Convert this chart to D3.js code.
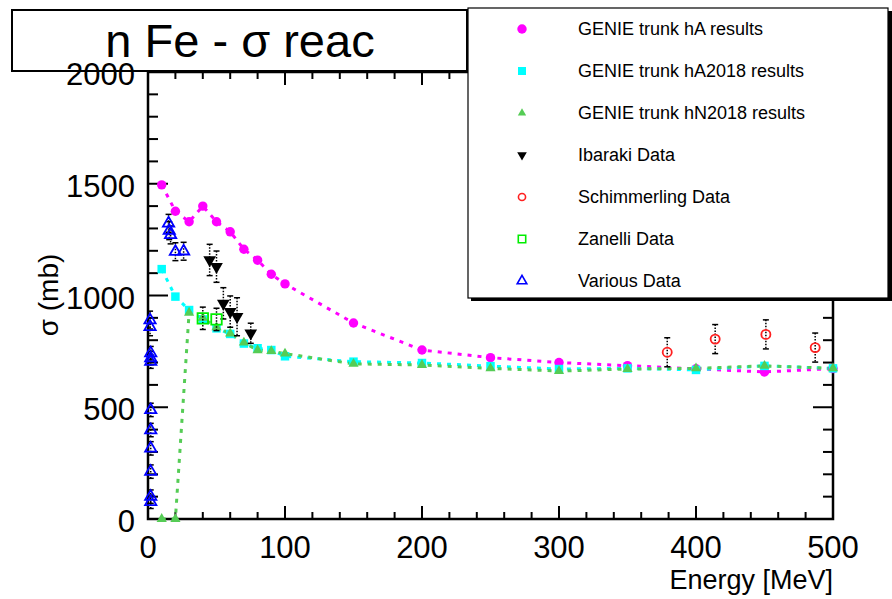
<!DOCTYPE html>
<html>
<head>
<meta charset="utf-8">
<script src="https://cdn.jsdelivr.net/npm/d3@7"></script>
<style>
  body { margin: 0; background: #fff; }
  text { font-family: "Liberation Sans", Arial, Helvetica, sans-serif; }
</style>
</head>
<body>
<div id="dataViz"></div>
<script>
/* chart data */
const genieE = [10, 20, 30, 40, 50, 60, 70, 80, 90, 100, 150, 200, 250, 300, 350, 400, 450, 500];
const hA     = [1495, 1377, 1330, 1400, 1330, 1285, 1207, 1158, 1095, 1052, 877, 756, 722, 700, 686, 672, 658, 673];
const hA2018 = [1118, 995, 935, 893, 853, 828, 785, 764, 756, 728, 704, 698, 684, 671, 674, 667, 685, 674];
const hN2018 = [0, 0, 923, 900, 858, 830, 789, 755, 751, 740, 694, 689, 674, 662, 671, 674, 685, 674];

const ibarakiE   = [45, 50, 55, 60, 65, 75];
const ibarakiV   = [1159, 1129, 965, 928, 905, 831];
const ibarakiErr = [70, 70, 70, 70, 85, 45];

const schimE   = [379, 414, 451, 487];
const schimV   = [746, 805, 826, 767];
const schimErr = [65, 65, 65, 65];

const zanelliE   = [40, 50];
const zanelliV   = [898, 893];
const zanelliErr = [50, 50];

const variousE   = [1.5, 1.5, 2, 2, 2, 2, 2, 2, 2, 2, 2, 15, 15.5, 16.5, 20, 26];
const variousV   = [890, 860, 742, 720, 704, 488, 398, 316, 212, 100, 77, 1323, 1290, 1271, 1196, 1198];
const variousErr = [40, 40, 30, 30, 30, 30, 30, 30, 30, 30, 30, 40, 40, 40, 40, 40];

const xTicks = [0, 100, 200, 300, 400, 500];
const yTicks = [0, 500, 1000, 1500, 2000];

const legendLabels = ["GENIE trunk hA results", "GENIE trunk hA2018 results", "GENIE trunk hN2018 results",
                      "Ibaraki Data", "Schimmerling Data", "Zanelli Data", "Various Data"];

/* svg */
const W = 892, H = 599;
const svg = d3.select("#dataViz").append("svg").attr("width", W).attr("height", H);

const x = d3.scaleLinear().domain([0, 500]).range([148, 833]);
const y = d3.scaleLinear().domain([0, 2000]).range([519, 72]);

// title box
svg.append("rect").attr("x", 12).attr("y", 10).attr("width", 455).attr("height", 61)
   .attr("fill", "#fff").attr("stroke", "#000").attr("stroke-width", 2);
svg.append("text").attr("x", 240).attr("y", 57).attr("text-anchor", "middle")
   .style("font-size", "47px").text("n Fe - \u03c3 reac");

// frame with ticks on all four sides (ROOT style, ticks inside)
const frame = svg.append("g");
frame.append("rect").attr("x", x(0)).attr("y", y(2000))
     .attr("width", x(500) - x(0)).attr("height", y(0) - y(2000))
     .attr("fill", "none").attr("stroke", "#000").attr("stroke-width", 2.5);

const xMinor = d3.range(0, 501, 20);
const yMinor = d3.range(0, 2001, 100);
frame.selectAll(".xt").data(xMinor).enter().append("line")
     .attr("x1", d => x(d)).attr("x2", d => x(d))
     .attr("y1", y(0)).attr("y2", d => y(0) - (d % 100 == 0 ? 13 : 7))
     .attr("stroke", "#000").attr("stroke-width", 2);
frame.selectAll(".xtt").data(xMinor).enter().append("line")
     .attr("x1", d => x(d)).attr("x2", d => x(d))
     .attr("y1", y(2000)).attr("y2", d => y(2000) + (d % 100 == 0 ? 13 : 7))
     .attr("stroke", "#000").attr("stroke-width", 2);
frame.selectAll(".yt").data(yMinor).enter().append("line")
     .attr("y1", d => y(d)).attr("y2", d => y(d))
     .attr("x1", x(0)).attr("x2", d => x(0) + (d % 500 == 0 ? 20 : 10))
     .attr("stroke", "#000").attr("stroke-width", 2);
frame.selectAll(".ytr").data(yMinor).enter().append("line")
     .attr("y1", d => y(d)).attr("y2", d => y(d))
     .attr("x1", x(500)).attr("x2", d => x(500) - (d % 500 == 0 ? 20 : 10))
     .attr("stroke", "#000").attr("stroke-width", 2);

// tick labels
svg.selectAll(".xl").data(xTicks).enter().append("text")
   .attr("x", d => x(d)).attr("y", 558).attr("text-anchor", "middle")
   .style("font-size", "31px").text(d => d);
svg.selectAll(".yl").data(yTicks).enter().append("text")
   .attr("x", 135).attr("y", d => y(d) + 13).attr("text-anchor", "end")
   .style("font-size", "31px").text(d => d);

// axis titles
svg.append("text").attr("x", 833).attr("y", 589).attr("text-anchor", "end")
   .style("font-size", "27px").text("Energy [MeV]");
svg.append("text").attr("transform", "translate(58,295) rotate(-90)").attr("text-anchor", "middle")
   .style("font-size", "28px").text("\u03c3 (mb)");

/* GENIE lines */
const line = d3.line().x(d => x(d[0])).y(d => y(d[1]));
const series = [
  { v: hA,     color: "#ff00ff", sym: d3.symbolCircle,   size: 70 },
  { v: hA2018, color: "#00ffff", sym: d3.symbolSquare,   size: 72 },
  { v: hN2018, color: "#55cc55", sym: d3.symbolTriangle, size: 45 }
];
series.forEach(function(s) {
  const pts = genieE.map((e, i) => [e, s.v[i]]);
  svg.append("path").datum(pts).attr("d", line)
     .attr("fill", "none").attr("stroke", s.color)
     .attr("stroke-width", 3).attr("stroke-dasharray", "4,6");
});
series.forEach(function(s) {
  svg.selectAll(null).data(genieE.map((e, i) => [e, s.v[i]])).enter().append("path")
     .attr("d", d3.symbol().type(s.sym).size(s.size))
     .attr("transform", d => `translate(${x(d[0])},${y(d[1])})`)
     .attr("fill", s.color);
});

/* data sets with error bars */
function errorBars(E, V, Err) {
  const g = svg.append("g");
  E.forEach(function(e, i) {
    const cx = x(e), y1 = y(V[i] + Err[i]), y2 = y(V[i] - Err[i]);
    g.append("line").attr("x1", cx).attr("x2", cx).attr("y1", y1).attr("y2", y2)
     .attr("stroke", "#000").attr("stroke-width", 1.5).attr("stroke-dasharray", "1.5,1.5");
    [y1, y2].forEach(function(yy) {
      g.append("line").attr("x1", cx - 3).attr("x2", cx + 3).attr("y1", yy).attr("y2", yy)
       .attr("stroke", "#000").attr("stroke-width", 1.5);
    });
  });
}
errorBars(variousE, variousV, variousErr);
errorBars(ibarakiE, ibarakiV, ibarakiErr);
errorBars(zanelliE, zanelliV, zanelliErr);
errorBars(schimE, schimV, schimErr);

function markers(E, V, sym, size, fill, stroke, rot) {
  svg.selectAll(null).data(E.map((e, i) => [e, V[i]])).enter().append("path")
     .attr("d", d3.symbol().type(sym).size(size))
     .attr("transform", d => `translate(${x(d[0])},${y(d[1])}) rotate(${rot})`)
     .attr("fill", fill).attr("stroke", stroke).attr("stroke-width", 1.8);
}
markers(ibarakiE, ibarakiV, d3.symbolTriangle, 70, "#000", "none", 180);
markers(zanelliE, zanelliV, d3.symbolSquare, 110, "none", "#00ee00", 0);
markers(schimE, schimV, d3.symbolCircle, 65, "none", "#ff2020", 0);
markers(variousE, variousV, d3.symbolTriangle, 55, "none", "#0000ff", 0);

/* legend */
svg.append("rect").attr("x", 471).attr("y", 11).attr("width", 421).attr("height", 290).attr("fill", "#000");
svg.append("rect").attr("x", 468).attr("y", 8).attr("width", 420).attr("height", 290)
   .attr("fill", "#fff").attr("stroke", "#000").attr("stroke-width", 1.2);

const legSyms = [
  { sym: d3.symbolCircle,   size: 70, fill: "#ff00ff", stroke: "none",    rot: 0 },
  { sym: d3.symbolSquare,   size: 64, fill: "#00ffff", stroke: "none",    rot: 0 },
  { sym: d3.symbolTriangle, size: 30, fill: "#55cc55", stroke: "none",    rot: 0 },
  { sym: d3.symbolTriangle, size: 40, fill: "#000",    stroke: "none",    rot: 180 },
  { sym: d3.symbolCircle,   size: 40, fill: "none",    stroke: "#ff2020", rot: 0 },
  { sym: d3.symbolSquare,   size: 55, fill: "none",    stroke: "#00ee00", rot: 0 },
  { sym: d3.symbolTriangle, size: 40, fill: "none",    stroke: "#0000ff", rot: 0 }
];
const leg = svg.append("g");
legendLabels.forEach(function(lab, i) {
  const yy = 29 + i * 42;
  const s = legSyms[i];
  leg.append("path").attr("d", d3.symbol().type(s.sym).size(s.size))
     .attr("transform", `translate(522,${yy}) rotate(${s.rot})`)
     .attr("fill", s.fill).attr("stroke", s.stroke).attr("stroke-width", 1.6);
  leg.append("text").attr("x", 578).attr("y", yy + 6).style("font-size", "18px").text(lab);
});
</script>
</body>
</html>
